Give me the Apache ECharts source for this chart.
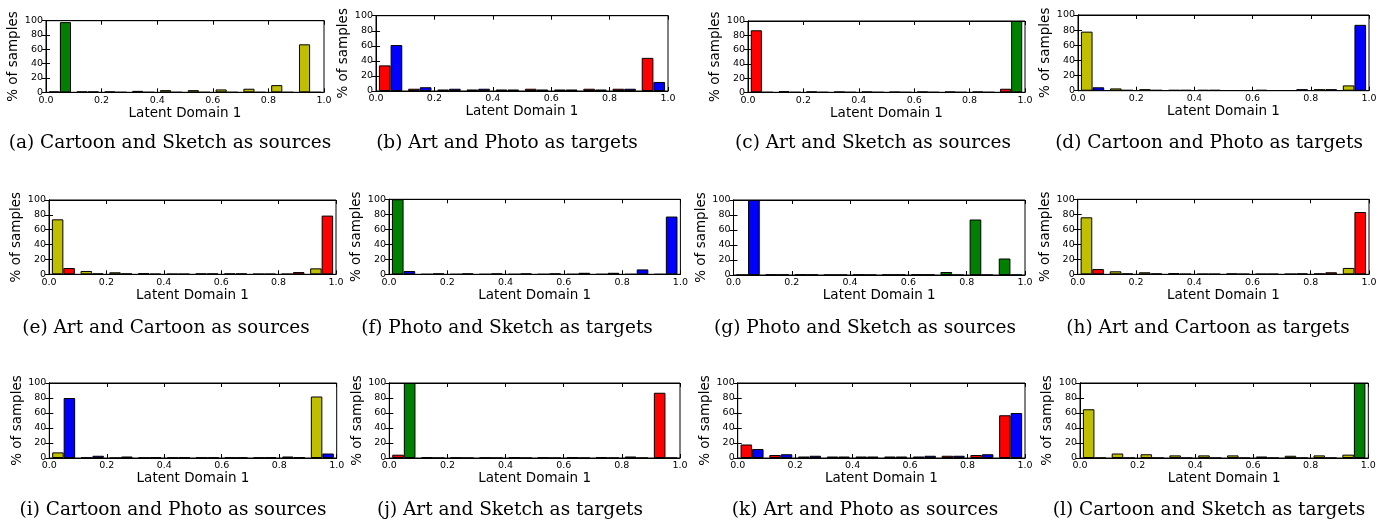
<!DOCTYPE html>
<html>
<head>
<meta charset="utf-8">
<script src="https://cdn.jsdelivr.net/npm/echarts@6/dist/echarts.min.js"></script>
<style>
html,body{margin:0;padding:0;background:#fff;}
#chart{width:1388px;height:523px;}
</style>
</head>
<body>
<div id="chart"></div>
<script>
// ---------- DATA ----------
const bins = ['0.0-0.1','0.1-0.2','0.2-0.3','0.3-0.4','0.4-0.5','0.5-0.6','0.6-0.7','0.7-0.8','0.8-0.9','0.9-1.0'];
const xTickLabels = ['0.0','0.2','0.4','0.6','0.8','1.0'];
const yTickLabels = ['0','20','40','60','80','100'];
const xAxisName = 'Latent Domain 1';
const yAxisName = '% of samples';

const captions = [
  '(a) Cartoon and Sketch as sources',
  '(b) Art and Photo as targets',
  '(c) Art and Sketch as sources',
  '(d) Cartoon and Photo as targets',
  '(e) Art and Cartoon as sources',
  '(f) Photo and Sketch as targets',
  '(g) Photo and Sketch as sources',
  '(h) Art and Cartoon as targets',
  '(i) Cartoon and Photo as sources',
  '(j) Art and Sketch as targets',
  '(k) Art and Photo as sources',
  '(l) Cartoon and Sketch as targets'
];

// (a) Cartoon (left bar) / Sketch (right bar)
const aCartoon = [1, 1, 1, 2, 3, 3, 4, 5, 10, 67];
const aSketch  = [98, 1, 0, 0, 0, 0, 0, 0, 0, 0];
// (b) Art / Photo
const bArt   = [34, 3, 2, 2, 2, 3, 2, 3, 3, 44];
const bPhoto = [61, 5, 3, 3, 2, 2, 2, 2, 3, 12];
// (c) Art / Sketch
const cArt    = [87, 1.5, 1, 0.8, 0.8, 0.5, 0.8, 0.8, 0.8, 5];
const cSketch = [0, 0, 0, 0, 0, 0, 0, 0, 0, 100];
// (d) Cartoon / Photo
const dCartoon = [78, 3, 2, 1, 1, 0.5, 1, 0.5, 2, 7];
const dPhoto   = [4.5, 1, 1, 1, 1, 0.5, 0.5, 2, 2, 87];
// (e) Cartoon / Art
const eCartoon = [74, 4.5, 2.7, 1.5, 0.5, 1, 1, 0.5, 0.5, 8];
const eArt     = [8.5, 1, 1, 0.5, 0.5, 1, 1, 0.5, 3, 79];
// (f) Sketch / Photo
const fSketch = [100, 0, 0, 0, 0, 0, 0, 0, 0, 0];
const fPhoto  = [4.4, 1, 1, 1, 1, 1, 2, 2, 6.5, 77];
// (g) Sketch / Photo
const gSketch = [0, 0.5, 0.5, 0, 0.5, 0.3, 0.5, 4, 74, 22];
const gPhoto  = [100, 0.3, 0.3, 0, 0, 0.3, 0.3, 0, 0, 0];
// (h) Cartoon / Art
const hCartoon = [76, 4, 2.7, 1.5, 0.5, 1, 0.5, 0.5, 1, 8.5];
const hArt     = [7, 1, 1, 0.5, 0.5, 0.5, 0.5, 1, 2.7, 83];
// (i) Cartoon / Photo
const iCartoon = [7.5, 0.5, 0, 0.5, 0.5, 0.5, 0.5, 0.5, 2, 82];
const iPhoto   = [80, 3, 2, 1, 1, 0.5, 0.5, 1, 1, 6];
// (j) Art / Sketch
const jArt    = [4.4, 1, 0.5, 0.5, 1, 0.5, 1, 1, 2, 87];
const jSketch = [100, 0, 0, 0, 0, 0, 0, 0, 0, 0];
// (k) Art / Photo
const kArt   = [18, 4, 2, 2, 2, 2, 2, 3, 4, 57];
const kPhoto = [12, 5, 3, 2, 2, 2, 3, 3, 5, 60];
// (l) Cartoon / Sketch
const lCartoon = [65, 6, 5, 3.5, 3.5, 3.5, 2, 3, 3.5, 4.5];
const lSketch  = [0, 0, 0, 0, 0, 0, 0, 0, 0, 100];

// ---------- STYLE / LAYOUT ----------
const domainColor = {Art:'#FF0000', Cartoon:'#BFBF00', Photo:'#0000FF', Sketch:'#008000'};

const panels = [
  {L:['Cartoon',aCartoon], R:['Sketch',aSketch]},
  {L:['Art',bArt], R:['Photo',bPhoto]},
  {L:['Art',cArt], R:['Sketch',cSketch]},
  {L:['Cartoon',dCartoon], R:['Photo',dPhoto]},
  {L:['Cartoon',eCartoon], R:['Art',eArt]},
  {L:['Sketch',fSketch], R:['Photo',fPhoto]},
  {L:['Sketch',gSketch], R:['Photo',gPhoto]},
  {L:['Cartoon',hCartoon], R:['Art',hArt]},
  {L:['Cartoon',iCartoon], R:['Photo',iPhoto]},
  {L:['Art',jArt], R:['Sketch',jSketch]},
  {L:['Art',kArt], R:['Photo',kPhoto]},
  {L:['Cartoon',lCartoon], R:['Sketch',lSketch]}
];

// grid boxes [left, top, width, height] and caption centres [x, y]
const boxes = [
  [46, 20.7, 278, 71.6], [376, 15.7, 292, 75.3], [748, 21, 277, 71.3], [1078, 15, 291, 75.7],
  [49, 200, 287, 74.3], [389, 199.3, 291.4, 75], [733.5, 200, 291.5, 75], [1077.7, 199.3, 291.3, 75],
  [49.3, 383, 287.4, 75], [389.3, 383, 290.7, 75], [737.7, 383, 287.3, 75], [1080, 383, 288.3, 75]
];
const capPos = [
  [170, 143], [507, 143], [873, 143], [1209, 143],
  [166, 328], [507, 328], [865, 328], [1208, 328],
  [173, 510], [510, 510], [865, 510], [1209, 510]
];

const FONT = 'DejaVu Sans';
const xInterval = Number(xTickLabels[1]) - Number(xTickLabels[0]);
const yInterval = Number(yTickLabels[1]) - Number(yTickLabels[0]);
const tickStyle = {show:true, inside:true, length:4, lineStyle:{color:'#000', width:1}};
const lineStyle = {show:true, lineStyle:{color:'#000', width:1}};

const option = {animation:false, backgroundColor:'#fff', grid:[], xAxis:[], yAxis:[], series:[], graphic:[]};

panels.forEach((p, i) => {
  const b = boxes[i];
  option.grid.push({left:b[0], top:b[1], width:b[2], height:b[3], show:true,
    borderColor:'#000', borderWidth:1, backgroundColor:'transparent'});
  // category axis carrying the bars
  option.xAxis.push({type:'category', gridIndex:i, data:bins, boundaryGap:true, show:false});
  // numeric axis for ticks/labels
  option.xAxis.push({type:'value', gridIndex:i, position:'bottom',
    min:Number(xTickLabels[0]), max:Number(xTickLabels[xTickLabels.length-1]), interval:xInterval,
    axisLine:lineStyle, axisTick:tickStyle, splitLine:{show:false},
    axisLabel:{fontFamily:FONT, fontSize:9.5, color:'#000', margin:3,
      formatter:v => xTickLabels[Math.round(v / xInterval)]},
    name:xAxisName, nameLocation:'middle', nameGap:13,
    nameTextStyle:{fontFamily:FONT, fontSize:13.5, color:'#000'}});
  option.xAxis.push({type:'value', gridIndex:i, position:'top',
    min:Number(xTickLabels[0]), max:Number(xTickLabels[xTickLabels.length-1]), interval:xInterval,
    axisLine:lineStyle, axisTick:tickStyle, axisLabel:{show:false}, splitLine:{show:false}});
  option.yAxis.push({type:'value', gridIndex:i, position:'left',
    min:Number(yTickLabels[0]), max:Number(yTickLabels[yTickLabels.length-1]), interval:yInterval,
    axisLine:lineStyle, axisTick:tickStyle, splitLine:{show:false},
    axisLabel:{fontFamily:FONT, fontSize:9.5, color:'#000', margin:3},
    name:yAxisName, nameLocation:'middle', nameGap:20, nameRotate:90,
    nameTextStyle:{fontFamily:FONT, fontSize:13.5, color:'#000'}});
  option.yAxis.push({type:'value', gridIndex:i, position:'right',
    min:Number(yTickLabels[0]), max:Number(yTickLabels[yTickLabels.length-1]), interval:yInterval,
    axisLine:lineStyle, axisTick:tickStyle, axisLabel:{show:false}, splitLine:{show:false}});
  [p.L, p.R].forEach(s => {
    option.series.push({type:'bar', name:s[0], xAxisIndex:3*i, yAxisIndex:2*i,
      data:s[1], barGap:'0%', barCategoryGap:'20%',
      itemStyle:{color:domainColor[s[0]], borderColor:'#000', borderWidth:1}});
  });
  option.graphic.push({type:'text', x:capPos[i][0], y:capPos[i][1], silent:true,
    style:{text:captions[i], font:'18.5px "DejaVu Serif"', fill:'#000', align:'center', verticalAlign:'middle'}});
});

const chart = echarts.init(document.getElementById('chart'), null, {renderer:'canvas'});
chart.setOption(option);
</script>
</body>
</html>
